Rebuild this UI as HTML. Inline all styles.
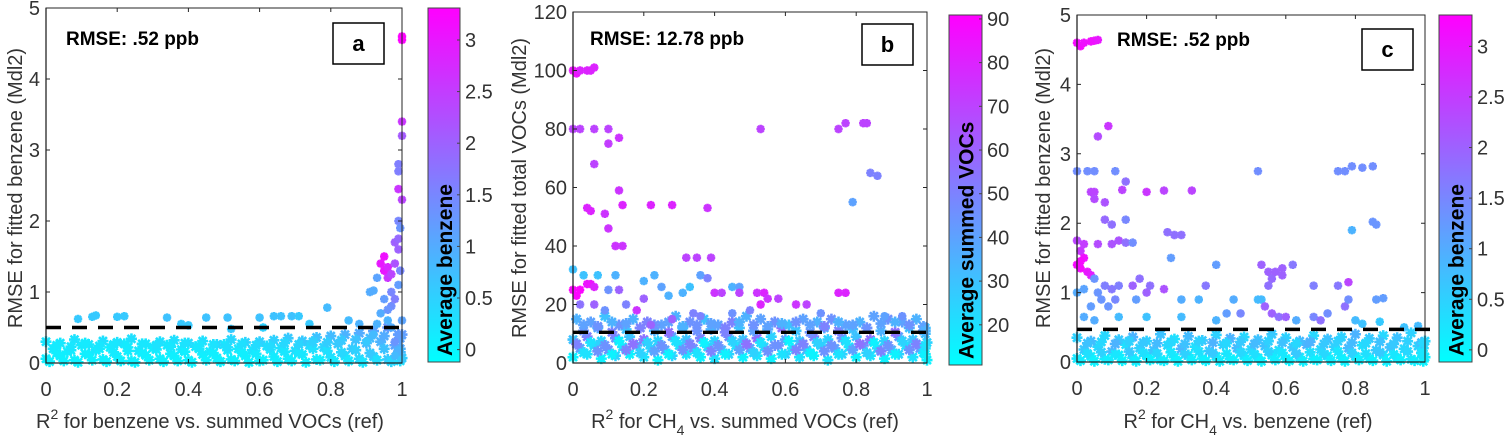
<!DOCTYPE html>
<html><head><meta charset="utf-8">
<style>
html,body{margin:0;padding:0;background:#fff;}
svg{display:block;font-family:"Liberation Sans",sans-serif;}
.tk{font-size:20px;fill:#333;}
.ttl{font-size:20px;fill:#333;}
.rm{font-size:19px;font-weight:bold;fill:#000;}
.cbt{font-size:21px;font-weight:bold;fill:#000;}
</style></head>
<body>
<svg id="chart" width="1505" height="438" viewBox="0 0 1505 438">
<defs>
<linearGradient id="cool" x1="0" y1="1" x2="0" y2="0">
<stop offset="0" stop-color="#00ffff"/><stop offset="1" stop-color="#ff00ff"/>
</linearGradient>
</defs>
</svg>
<script>
const bandX = [0,.04,.08,.12,.16,.2,.24,.28,.32,.36,.4,.44,.48,.52,.56,.6,.64,.68,.72,.76,.8,.84,.88,.92,.96,1];

// Panel a
const aXTicks = [0,0.2,0.4,0.6,0.8,1];
const aYTicks = [0,1,2,3,4,5];
const aCTicks = [0,0.5,1,1.5,2,2.5,3];
const aThreshold = 0.5;
const aBandY = [
 [.06,.1,.04,.12,.05,.09,.03,.11,.06,.1,.04,.12,.07,.05,.1,.03,.09,.06,.12,.05,.08,.1,.06,.09,.05,.07],
 [.2,.16,.25,.18,.22,.27,.17,.21,.25,.19,.23,.16,.26,.2,.18,.24,.21,.17,.25,.22,.27,.2,.28,.3,.25,.2],
 [.3,.28,.33,.26,.31,.29,.34,.27,.3,.32,.28,.31,.26,.33,.29,.3,.32,.35,.31,.36,.38,.4,.42,.45,.5,.4],
 [.14,.18,.13,.2,.15,.17,.14,.19,.13,.16,.2,.14,.18,.15,.13,.19,.16,.14,.2,.17,.15,.18,.14,.2,.16,.15],
 [.02,.03,.01,.04,.02,.03,.01,.04,.02,.03,.01,.04,.02,.03,.01,.04,.02,.03,.01,.04,.02,.03,.01,.04,.02,.03],
 [.25,.23,.28,.24,.26,.22,.27,.25,.23,.28,.24,.26,.22,.27,.25,.23,.28,.26,.3,.29,.32,.33,.35,.38,.4,.35]];
const aBandC = [
 [.1,.1,.1,.1,.1,.1,.1,.1,.1,.1,.1,.1,.1,.1,.1,.1,.15,.15,.2,.2,.3,.3,.4,.5,.6,.5],
 [.15,.1,.15,.2,.1,.15,.2,.1,.15,.2,.2,.15,.2,.2,.25,.3,.3,.35,.4,.45,.6,.6,.8,.9,1.1,1],
 [.2,.2,.25,.2,.3,.25,.3,.2,.3,.3,.35,.3,.4,.4,.45,.5,.5,.6,.6,.7,.8,.9,1,1.1,1.3,1.2],
 [.1,.15,.1,.1,.15,.1,.1,.15,.1,.1,.15,.1,.15,.1,.15,.2,.2,.2,.3,.3,.4,.5,.6,.7,.9,.8],
 [.05,.05,.05,.05,.05,.05,.05,.05,.05,.05,.05,.05,.05,.05,.05,.05,.1,.1,.1,.1,.15,.2,.2,.3,.4,.3],
 [.15,.2,.15,.2,.2,.15,.2,.25,.2,.25,.2,.25,.3,.3,.35,.35,.4,.45,.5,.55,.6,.7,.8,1,1.2,1.1]];
const aPoints = [[.09,.62,.6],[.13,.65,.6],[.14,.67,.6],[.2,.65,.6],[.22,.66,.6],[.34,.64,.7],[.38,.55,.6],[.4,.53,.6],[.45,.64,.7],[.51,.64,.7],[.52,.48,.6],[.6,.64,.7],[.61,.5,.5],[.64,.66,.7],[.66,.66,.7],[.69,.66,.7],[.71,.66,.6],[.74,.55,.6],[.79,.78,.8],[.85,.6,.8],[.88,.55,.9],
 [.91,1.0,1.0],[.92,1.02,1.0],[.93,1.2,1.1],[.94,1.4,3.0],[.95,1.5,3.1],[.95,1.3,3.0],[.96,1.35,2.8],[.96,1.2,2.6],[.97,1.25,2.4],[.97,1.0,1.5],[.97,0.8,1.4],[.98,1.7,2.0],[.98,1.4,2.2],[.98,0.9,1.6],[.99,2.0,1.5],[.99,1.75,1.9],[.99,1.6,2.0],[.99,2.45,2.6],[1.0,2.3,2.4],[.99,2.7,1.6],[.99,2.8,1.6],[1,3.2,2.1],[1,3.4,2.6],[1,4.55,3.3],[1,4.6,3.3],[.995,1.9,1.3],[.995,1.3,1.5],[.99,1.1,1.2],[.96,.6,.9],[.94,.7,1],[.97,.5,1],[.99,.4,1.2],[.98,.3,1.3],[1,.6,1.1],[.92,.4,.8],[.9,.3,.6],[.99,.15,.9],[.98,.1,.8],[1,.05,.6],[.95,.9,1.2],[.96,.75,1.3],[.93,.55,.9]];

// Panel b
const bXTicks = [0,0.2,0.4,0.6,0.8,1];
const bYTicks = [0,20,40,60,80,100,120];
const bCTicks = [20,30,40,50,60,70,80,90];
const bThreshold = 10.5;
const bBandY = [
 [2,3,1.5,2.5,3,2,1,2.5,3,2,1.5,3,2,2.5,1.5,3,2,2.5,1,3,2,2.5,1.5,3,2,1],
 [5,6,4.5,5.5,6,5,4.5,6,5,5.5,4.5,6,5,5.5,6,5,4.5,6,5,5.5,6,5,4.5,6,5,5],
 [8,9,7.5,8.5,9,8,7.5,9,8,8.5,7.5,9,8,8.5,9,8,7.5,9,8,8.5,9,8,7.5,9,8,7],
 [11,12,10.5,11.5,12,11,10.5,12,11,11.5,10.5,12,11,11.5,12,11,10.5,12,11,11.5,12,11,10.5,12,11,10],
 [15,14,16,13,15,14,13,16,14,15,13,14,16,15,14,13,15,14,15,13,14,16,15,14,15,12],
 [3.5,4,3,4.5,3.5,4,3,4.5,3.5,4,3,4.5,3.5,4,3,4.5,3.5,4,3,4.5,3.5,4,3,4.5,3.5,3],
 [6.5,7,6,7.5,6.5,7,6,7.5,6.5,7,6,7.5,6.5,7,6,7.5,6.5,7,6,7.5,6.5,7,6,7.5,6.5,6],
 [13,12.5,14,13.5,12,13,14,12.5,13,13.5,12,14,13,12.5,13.5,14,13,12.5,14,13,12,13.5,14,13,12.5,11]];
const bBandC = [
 [15,20,15,25,15,20,15,25,20,15,20,25,15,20,15,25,20,15,20,25,15,20,15,25,20,15],
 [40,25,45,20,35,25,40,20,45,25,35,20,40,25,45,20,35,25,40,20,45,25,35,20,40,20],
 [30,50,25,45,30,55,25,40,30,50,25,45,30,55,25,40,30,50,25,45,30,55,25,40,30,25],
 [45,35,50,30,40,35,55,30,45,35,50,30,40,35,55,30,45,35,50,30,40,35,55,30,45,30],
 [35,40,30,45,35,50,40,35,45,30,40,50,35,40,45,30,40,35,45,40,35,40,45,40,35,30],
 [20,45,15,50,25,40,15,45,20,50,15,40,25,45,20,50,15,45,20,40,25,50,15,45,20,15],
 [50,20,45,15,55,25,45,20,50,15,45,25,55,20,45,15,50,25,45,20,55,15,45,25,50,20],
 [40,45,35,40,50,45,40,35,45,40,50,35,45,40,35,45,40,50,35,40,45,40,35,45,40,35]];
const bPoints = [[0,100,85],[.01,99,85],[.02,100,80],[.04,100,80],[.05,100,80],[.06,101,80],[0,80,70],[.02,80,70],[.06,80,70],[.1,80,70],[.13,77,75],[.1,75,72],[.06,68,70],[.13,59,75],[.04,53,80],[.05,52,80],[.09,51,75],[.1,46,75],[.14,54,80],[.22,54,80],[.28,54,80],[.38,53,75],[.12,40,75],[.14,40,75],[.32,36,70],[.35,36,70],[.39,36,70],[.36,30,40],[.38,29,50],[.53,80,70],[.75,80,70],[.77,82,70],[.82,82,70],[.83,82,70],[.84,65,50],[.86,64,50],[.79,55,40],
 [0,25,90],[.01,23,90],[.02,25,90],[.04,27,85],[.05,27,85],[.06,26,80],[0,32,30],[.03,30,30],[.07,30,30],[.12,30,35],[.1,25,45],[.13,25,60],[.2,28,35],[.23,30,35],[.25,26,40],[.27,23,35],[.31,24,35],[.33,26,30],[.4,24,75],[.42,24,70],[.45,26,35],[.47,26,40],[.47,24,70],[.52,24,75],[.54,24,80],[.53,20,80],[.55,22,75],[.58,22,70],[.63,20,75],[.66,20,70],[.75,24,80],[.77,24,80],[.18,18,75],[.2,22,60],[.22,13,60],[.28,15,60],[.34,17,50],[.36,16,50],[.02,20,55],[.06,20,60],[.09,18,45],[.15,20,50],[.45,17,45],[.5,18,50],[.7,17,45],[.88,16,40],[.93,16,45]];

// Panel c
const cXTicks = [0,0.2,0.4,0.6,0.8,1];
const cYTicks = [0,1,2,3,4,5];
const cCTicks = [0,0.5,1,1.5,2,2.5,3];
const cThreshold = 0.47;
const cBandY = [
 [.05,.08,.04,.1,.06,.09,.03,.07,.1,.05,.08,.04,.09,.06,.1,.05,.07,.04,.09,.06,.08,.05,.1,.06,.04,.07],
 [.18,.22,.15,.25,.2,.17,.24,.19,.22,.16,.25,.2,.18,.23,.17,.21,.25,.18,.22,.2,.24,.17,.21,.19,.23,.2],
 [.35,.3,.38,.32,.36,.3,.4,.33,.37,.31,.39,.34,.36,.32,.4,.35,.3,.38,.33,.36,.4,.34,.38,.35,.42,.3],
 [.12,.14,.11,.15,.13,.12,.14,.11,.15,.13,.12,.14,.11,.15,.13,.12,.14,.11,.15,.13,.12,.14,.11,.15,.13,.12],
 [.02,.01,.03,.02,.01,.03,.02,.01,.03,.02,.01,.03,.02,.01,.03,.02,.01,.03,.02,.01,.03,.02,.01,.03,.02,.01],
 [.27,.29,.26,.3,.28,.27,.29,.26,.3,.28,.27,.29,.26,.3,.28,.27,.29,.26,.3,.28,.27,.29,.26,.3,.28,.27]];
const cBandC = [
 [.2,.1,.15,.1,.2,.1,.15,.1,.2,.1,.15,.1,.2,.1,.15,.1,.2,.1,.15,.1,.2,.1,.15,.1,.2,.1],
 [.6,.4,.8,.3,.5,.7,.4,.9,.3,.6,.5,.8,.4,.7,.3,.6,.9,.4,.5,.8,.3,.6,.7,.4,.5,.3],
 [.5,.8,.4,.6,.9,.5,.7,.3,.8,.6,.5,.9,.4,.7,.6,.5,.8,.4,.7,.5,.9,.6,.4,.7,.5,.4],
 [.3,.5,.2,.6,.3,.4,.2,.5,.3,.6,.2,.4,.3,.5,.2,.6,.3,.4,.2,.5,.3,.6,.2,.4,.3,.2],
 [.1,.05,.1,.05,.1,.05,.1,.05,.1,.05,.1,.05,.1,.05,.1,.05,.1,.05,.1,.05,.1,.05,.1,.05,.1,.05],
 [.7,.4,.9,.5,.6,.8,.4,.7,.5,.9,.4,.6,.8,.5,.7,.4,.9,.6,.5,.8,.4,.7,.6,.5,.8,.4]];
const cPoints = [[0,4.6,3.2],[.01,4.55,3.2],[.02,4.6,3.1],[.04,4.62,3.1],[.05,4.63,3.1],[.06,4.64,3.0],[.06,3.25,2.3],[.09,3.4,2.6],[0,2.75,1.4],[.03,2.75,1.4],[.05,2.75,1.4],[.11,2.75,1.4],[.04,2.45,2.4],[.05,2.45,2.4],[.05,2.35,2.3],[.13,2.48,2.4],[.14,2.6,1.8],[.2,2.45,2.6],[.25,2.47,2.4],[.33,2.47,2.4],[.08,2.3,2.2],[.08,2.05,1.9],[.1,1.98,1.8],[.14,2.05,1.5],[.26,1.87,1.8],[.28,1.83,1.8],[.3,1.83,1.8],[.1,1.7,2.2],[.12,1.75,2.2],[.14,1.72,1.8],[.16,1.72,1.4],[0,1.75,2.4],[.01,1.6,2.6],[0,1.4,3.2],[.01,1.35,3.2],[.02,1.5,3.1],[.03,1.3,3.0],[.04,1.25,2.9],[.01,1.45,3.2],[.02,1.7,2.5],[.06,1.7,2.3],[.27,1.5,1.2],[.4,1.4,1.2],[.52,2.75,1.4],[.75,2.75,1.4],[.77,2.75,1.4],[.79,2.82,1.4],[.82,2.8,1.4],[.85,2.82,1.4],[.85,2.02,1.3],[.86,1.98,1.3],[.79,1.9,0.9],[.53,1.4,2],[.55,1.3,2],[.56,1.2,1.9],[.57,1.3,2],[.59,1.35,2],[.59,1.25,2],[.62,1.4,1.7],[.55,1.1,1.8],[.78,1.15,2.4],[.68,1.1,1.6],[.75,1.1,1.7],[.37,1.1,1.7],[.16,1.1,2.0],[.18,1.2,1.8],[.2,1.0,2.0],[.25,1.05,2.2],[.21,1.1,1.8],[.17,.9,1.2],[.3,.9,1],[.35,.9,.9],[.45,.9,1],[.52,.9,.8],[.53,.9,.8],[.54,.8,2],[.56,.7,2],[.58,.65,1.8],[.6,.65,2],[.77,.8,1.8],[.78,.9,1.4],[.86,.9,1.2],[.88,.92,1.2],[.72,.7,1.4],[0,1.0,1.0],[.02,1.05,1.1],[.05,1.2,1.3],[.06,1.0,1.3],[.08,1.1,1.6],[.1,1.05,1.7],[.11,.9,1.5],[.12,1.1,1.6],[.07,.9,1.3],[.04,.8,1.2],[.09,.8,1.3],[.02,.65,1],[.05,.6,1],[.12,.65,.8],[.2,.65,.7],[.3,.65,.8],[.4,.6,.9],[.43,.7,1.2],[.47,.7,1.5],[.63,.6,1],[.68,.65,1.5],[.7,.6,1.8],[.8,.6,.8],[.82,.55,.7],[.87,.58,.6],[.98,.52,.8],[.94,.5,.7],[.99,.1,.2]];

const NS = "http://www.w3.org/2000/svg";
const svg = document.getElementById('chart');
function mk(tag, attrs, parent, text){
  const e = document.createElementNS(NS, tag);
  for (const k in attrs) e.setAttribute(k, attrs[k]);
  if (text !== undefined) e.textContent = text;
  (parent || svg).appendChild(e);
  return e;
}
function cool(t){
  t = Math.max(0, Math.min(1, t));
  const r = Math.round(255*t), g = Math.round(255*(1-t));
  return `rgb(${r},${g},255)`;
}

function panel(cfg){
  const g = mk('g', {});
  
  
  const L=cfg.L,R=cfg.R,T=cfg.T,B=cfg.B;
  const xs = v => L + v * (R - L);
  const ys = v => B - (v - cfg.ymin) / (cfg.ymax - cfg.ymin) * (B - T);
  const cn = v => (v - cfg.cmin) / (cfg.cmax - cfg.cmin);
  const mg = mk('g', {}, g);
  
  
  function dot(x, y, c, a){
    const px = xs(x), py = ys(y), col = cool(cn(c));
    const s = mk('path', {d:`M${px-a},${py}h${2*a}M${px},${py-a}v${2*a}M${px-a*.72},${py-a*.72}l${a*1.44},${a*1.44}M${px-a*.72},${py+a*.72}l${a*1.44},${-a*1.44}`, stroke:col, 'stroke-width':2.6, fill:'none'}, mg);
    
    
  }
  cfg.bandY.forEach((row, ri) => {
    row.forEach((y, i) => {
      let x = bandX[i] + (ri % 2 ? 0.02 : 0) + (ri >= 3 ? 0.01 : 0);
      if (x > 1) x = 0.995;
      dot(x, y, cfg.bandC[ri][i], 5.5);
    });
  });
  cfg.points.forEach(p => dot(p[0], p[1], p[2], 4.2));
  const ax = mk('rect', {x:L, y:T, width:R-L, height:B-T, fill:'none', stroke:'#262626', 'stroke-width':1}, g);
  
  
  const bl = mk('path', {d:`M${L},${T}V${B}H${R}`, fill:'none', stroke:'#262626', 'stroke-width':1.3}, g);
  
  
  cfg.xticks.forEach(v => {
    const px = xs(v);
    mk('path', {d:`M${px},${B}v-4M${px},${T}v4`, stroke:'#262626'}, g);
    const t = mk('text', {x:px, y:B+33, 'text-anchor':'middle', class:'tk'}, g, String(v));
    
    
  });
  cfg.yticks.forEach(v => {
    const py = ys(v);
    mk('path', {d:`M${L},${py}h4M${R},${py}h-4`, stroke:'#262626'}, g);
    const t = mk('text', {x:L-6, y:py+7, 'text-anchor':'end', class:'tk'}, g, String(v));
    
    
  });
  const th = mk('line', {x1:L, x2:R+cfg.dashExt, y1:ys(cfg.threshold), y2:ys(cfg.threshold), stroke:'#000', 'stroke-width':3.4, 'stroke-dasharray':'15 11'}, g);
  
  
  const rm = mk('text', {x:cfg.rmx, y:cfg.rmy, class:'rm'}, g, cfg.rmse);
  
  
  const pb = mk('rect', {x:cfg.box[0], y:cfg.box[1], width:51, height:41, fill:'#fff', stroke:'#000', 'stroke-width':1.5}, g);
  
  
  const pl = mk('text', {x:cfg.box[0]+25.5, y:cfg.box[1]+28, 'text-anchor':'middle', style:'font-size:22px;font-weight:bold'}, g, cfg.letter);
  
  
  const yt = mk('text', {x:0, y:0, 'text-anchor':'middle', class:'ttl', transform:`translate(${cfg.ytx},${cfg.yty}) rotate(-90)`}, g, cfg.ytitle);
  
  
  const xt = mk('text', {x:cfg.xtx, y:428, 'text-anchor':'middle', class:'ttl'}, g);
  
  
  mk('tspan', {}, xt, 'R');
  mk('tspan', {dy:-9, style:'font-size:14px'}, xt, '2');
  mk('tspan', {dy:9}, xt, ' for ' + cfg.xt1);
  if (cfg.sub){ mk('tspan', {dy:7, style:'font-size:14px'}, xt, cfg.sub); mk('tspan', {dy:-7}, xt, cfg.xt2); }
  const cb = cfg.cb;
  const cr = mk('rect', {x:cb[0], y:cb[1], width:cb[2]-cb[0], height:cb[3]-cb[1], fill:'url(#cool)', stroke:'#444', 'stroke-width':1}, g);
  
  
  const cys = v => cb[3] - (v - cfg.cmin) / (cfg.cmax - cfg.cmin) * (cb[3] - cb[1]);
  cfg.cticks.forEach(v => {
    const py = cys(v);
    mk('path', {d:`M${cb[2]},${py}h-3`, stroke:'#444'}, g);
    const t = mk('text', {x:cb[2]+5, y:py+7, class:'tk'}, g, String(v));
    
    
  });
  const ct = mk('text', {x:0, y:0, class:'cbt', transform:`translate(${(cb[0]+cb[2])/2+8},${cb[3]-6}) rotate(-90)`}, g, cfg.ctitle);
  
  
}

panel({name:'panel-a', L:46, R:402, T:8, B:363, ymin:0, ymax:5, cmin:-0.12, cmax:3.31,
  bandY:aBandY, bandC:aBandC, points:aPoints, xticks:aXTicks, yticks:aYTicks, cticks:aCTicks,
  threshold:aThreshold, dashExt:2, rmse:'RMSE: .52 ppb', rmx:66, rmy:45, box:[333,23], letter:'a',
  ytitle:'RMSE for  fitted benzene (Mdl2)', ytx:22, yty:188, xtx:210, xt1:'benzene vs. summed VOCs (ref)',
  cb:[428,8,460,362], ctitle:'Average benzene'});
panel({name:'panel-b', L:573, R:927, T:12, B:363, ymin:0, ymax:120, cmin:10.8, cmax:90.9,
  bandY:bBandY, bandC:bBandC, points:bPoints, xticks:bXTicks, yticks:bYTicks, cticks:bCTicks,
  threshold:bThreshold, dashExt:0, rmse:'RMSE: 12.78 ppb', rmx:590, rmy:45, box:[862,24], letter:'b',
  ytitle:'RMSE for fitted total VOCs (Mdl2)', ytx:526, yty:188, xtx:745, xt1:'CH', sub:'4', xt2:' vs. summed VOCs (ref)',
  cb:[949,15,982,365], ctitle:'Average summed VOCs'});
panel({name:'panel-c', L:1077, R:1425, T:15, B:362, ymin:0, ymax:5, cmin:-0.12, cmax:3.31,
  bandY:cBandY, bandC:cBandC, points:cPoints, xticks:cXTicks, yticks:cYTicks, cticks:cCTicks,
  threshold:cThreshold, dashExt:10, rmse:'RMSE: .52 ppb', rmx:1117, rmy:46, box:[1362,29], letter:'c',
  ytitle:'RMSE for  fitted benzene (Mdl2)', ytx:1050, yty:188, xtx:1248, xt1:'CH', sub:'4', xt2:' vs. benzene (ref)',
  cb:[1439,15,1472,362], ctitle:'Average benzene'});
</script>
</body></html>
